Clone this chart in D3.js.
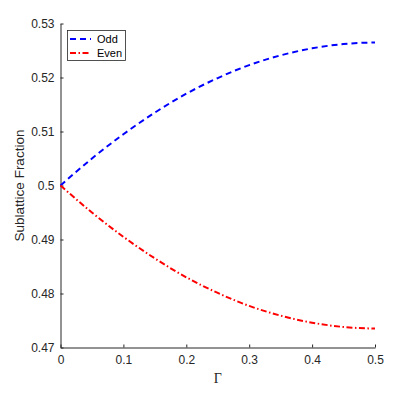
<!DOCTYPE html>
<html>
<head>
<meta charset="utf-8">
<script src="https://cdn.jsdelivr.net/npm/d3@7"></script>
<style>
  body { margin: 0; background: #fff; }
  text { font-family: "Liberation Sans", Arial, sans-serif; }
</style>
</head>
<body>
<div id="chart"></div>
<script>
// values
var gammaVals = [0, 0.05, 0.1, 0.15, 0.2, 0.25, 0.3, 0.35, 0.4, 0.45, 0.5];
var oddVals  = [0.5, 0.5050, 0.5095, 0.5135, 0.5170, 0.5199, 0.5223, 0.5241, 0.5254, 0.5262, 0.5265];
var evenVals = [0.5, 0.4950, 0.4905, 0.4865, 0.4830, 0.4801, 0.4777, 0.4759, 0.4746, 0.4738, 0.4735];
var xTicks = [0, 0.1, 0.2, 0.3, 0.4, 0.5];
var yTicks = [0.47, 0.48, 0.49, 0.5, 0.51, 0.52, 0.53];
var seriesNames = ["Odd", "Even"];

var width = 399, height = 399;
var margin = {left: 60.5, right: 24, top: 23.5, bottom: 51.5};

var svg = d3.select("#chart").append("svg")
  .attr("width", width)
  .attr("height", height);

var x = d3.scaleLinear().domain([0, 0.5]).range([margin.left, width - margin.right]);
var y = d3.scaleLinear().domain([0.47, 0.53]).range([height - margin.bottom, margin.top]);

var axisColor = "#262626";

// x axis (ticks inside)
var xAxis = svg.append("g")
  .attr("transform", "translate(0," + (height - margin.bottom) + ")")
  .call(d3.axisBottom(x).tickValues(xTicks).tickSizeInner(-3).tickSizeOuter(0).tickPadding(8)
    .tickFormat(d => d3.format("")(d)));
xAxis.select(".domain").attr("stroke", axisColor);
xAxis.selectAll(".tick line").attr("stroke", axisColor);
xAxis.selectAll("text").attr("fill", axisColor).style("font-size", "12px");

// y axis
var yAxis = svg.append("g")
  .attr("transform", "translate(" + margin.left + ",0)")
  .call(d3.axisLeft(y).tickValues(yTicks).tickSizeInner(-3).tickSizeOuter(0).tickPadding(6)
    .tickFormat(d => d3.format("")(+d.toFixed(2))));
yAxis.select(".domain").attr("stroke", axisColor);
yAxis.selectAll(".tick line").attr("stroke", axisColor);
yAxis.selectAll("text").attr("fill", axisColor).style("font-size", "12px");

// axis labels
svg.append("text")
  .attr("x", (x(0) + x(0.5)) / 2)
  .attr("y", 383)
  .attr("text-anchor", "middle")
  .style("font-family", "'Liberation Serif', 'Times New Roman', serif")
  .style("font-size", "14px")
  .attr("fill", axisColor)
  .text("Γ");

svg.append("text")
  .attr("transform", "translate(24," + y(0.5) + ") rotate(-90)")
  .attr("text-anchor", "middle")
  .style("font-size", "13.5px")
  .attr("fill", axisColor)
  .text("Sublattice Fraction");

// lines
var line = d3.line()
  .x((d, i) => x(gammaVals[i]))
  .y(d => y(d))
  .curve(d3.curveMonotoneX);

svg.append("path")
  .datum(oddVals)
  .attr("d", line)
  .attr("fill", "none")
  .attr("stroke", "#0000ff")
  .attr("stroke-width", 2)
  .attr("stroke-dasharray", "6,4");

svg.append("path")
  .datum(evenVals)
  .attr("d", line)
  .attr("fill", "none")
  .attr("stroke", "#ff0000")
  .attr("stroke-width", 2)
  .attr("stroke-dasharray", "6,2.5,1.5,2.5");

// legend
var legend = svg.append("g");
legend.append("rect")
  .attr("x", 67.5).attr("y", 30.5)
  .attr("width", 58).attr("height", 30)
  .attr("fill", "#fff")
  .attr("stroke", axisColor)
  .attr("stroke-width", 0.8);

var legColors = ["#0000ff", "#ff0000"];
var legDash = ["6,4", "6,2.5,1.5,2.5"];
seriesNames.forEach(function(name, i) {
  var ly = 39 + i * 14;
  legend.append("line")
    .attr("x1", 70).attr("x2", 91)
    .attr("y1", ly).attr("y2", ly)
    .attr("stroke", legColors[i])
    .attr("stroke-width", 2)
    .attr("stroke-dasharray", legDash[i]);
  legend.append("text")
    .attr("x", 97).attr("y", ly + 4)
    .style("font-size", "11px")
    .attr("fill", "#000")
    .text(name);
});
</script>
</body>
</html>
